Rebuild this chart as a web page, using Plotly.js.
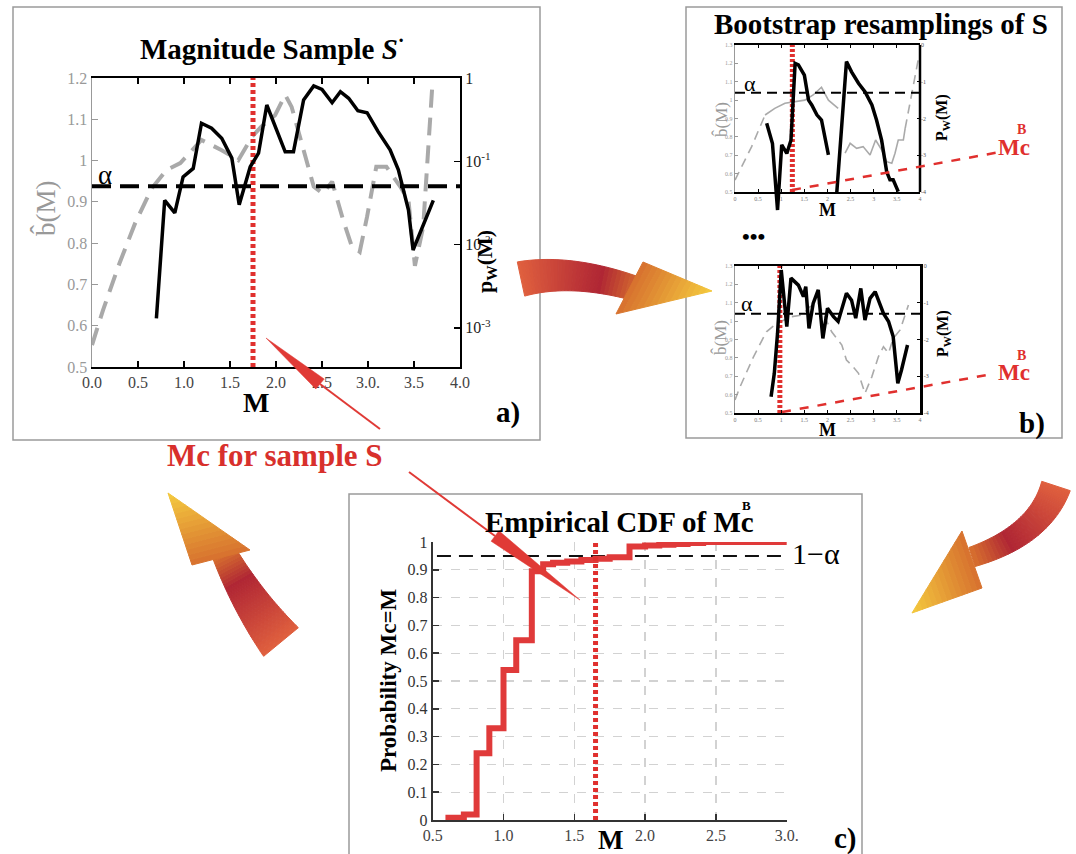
<!DOCTYPE html>
<html><head><meta charset="utf-8">
<script src="https://cdn.plot.ly/plotly-3.0.1.min.js"></script>
<style>html,body{margin:0;padding:0;background:#fff}#chart{width:1076px;height:854px}</style>
</head><body><div id="chart"></div>
<script>
// ---------- Panel a: magnitude sample S ----------
const aM_pw = [0.70,0.79,0.90,0.99,1.10,1.19,1.30,1.41,1.52,1.60,1.72,1.81,1.90,2.10,2.19,2.30,2.41,2.50,2.61,2.70,2.79,2.89,2.99,3.11,3.24,3.33,3.44,3.49,3.71];
const aPw   = [0.0013,0.034,0.024,0.065,0.082,0.286,0.249,0.189,0.109,0.030,0.086,0.125,0.474,0.130,0.130,0.544,0.802,0.731,0.505,0.685,0.571,0.405,0.383,0.227,0.137,0.079,0.026,0.0086,0.034];
const aM_b  = [0.00,0.12,0.30,0.47,0.65,0.81,0.96,1.19,1.41,1.59,1.74,1.84,1.99,2.10,2.17,2.33,2.41,2.51,2.61,2.73,2.82,2.91,2.99,3.09,3.20,3.35,3.44,3.51,3.60,3.70];
const aB    = [0.553,0.638,0.752,0.849,0.933,0.977,0.994,1.050,1.025,1.001,1.058,1.082,1.110,1.159,1.130,1.001,0.937,0.920,0.949,0.856,0.795,0.779,0.864,0.985,0.985,0.937,0.904,0.745,0.840,1.185];
const alphaA = 0.05;
const McA = 1.75;
const aXv = [0,0.5,1,1.5,2,2.5,3,3.5,4];
const aXt = ['0.0','0.5','1.0','1.5','2.0','2.5','3.0.','3.5','4.0'];
const aYv = [0.5,0.6,0.7,0.8,0.9,1.0,1.1,1.2];
const aYt = ['0.5','0.6','0.7','0.8','0.9','1','1.1','1.2'];
const aY2v = [0.001,0.01,0.1,1];
const aY2t = ['10<sup>-3</sup>','10<sup>-2</sup>','10<sup>-1</sup>','1'];

// ---------- Panel b: bootstrap resamplings ----------
const b1M_pw = [0.685,0.81,0.92,1.01,1.12,1.21,1.30,1.37,1.50,1.59,1.66,1.77,1.87,2.02,null,2.20,2.41,2.52,2.67,2.81,2.96,3.06,3.17,3.28,3.35,3.42,3.53];
const b1Lp   = [-2.13,-2.68,-4.49,-2.72,-2.95,-2.59,-0.50,-0.54,-0.82,-1.50,-1.63,-1.90,-2.04,-2.99,null,-4.03,-0.45,-0.73,-1.04,-1.27,-1.63,-2.04,-2.59,-3.45,-3.67,-3.67,-3.99];
const b1M_bd1 = [0.00,0.36,0.65];
const b1Bd1   = [0.565,0.747,0.919];
const b1M_bs  = [0.65,0.86,1.08,1.30,1.51,1.69,1.87,2.02,2.23,null,2.38,2.49,2.63,2.77,2.92,3.04,3.17,3.28,3.39,3.46,3.53,3.64,3.68];
const b1Bs    = [0.919,0.955,0.983,0.991,1.000,1.028,1.070,1.000,0.955,null,0.711,0.765,0.738,0.747,0.701,0.783,0.729,0.665,0.656,0.711,0.783,0.783,0.847];
const b1M_bd2 = [3.68,3.96];
const b1Bd2   = [0.847,1.218];
const McB1 = 1.24;

const b2M_pw = [0.78,0.85,0.92,1.00,1.12,1.21,1.37,1.48,1.53,1.60,1.69,1.80,1.90,2.00,2.13,2.23,2.41,2.52,2.61,2.72,2.81,2.92,3.03,3.21,3.32,3.42,3.52,3.60,3.73];
const b2Lp   = [-3.56,-2.92,-1.83,-0.11,-1.65,-0.33,-0.52,-0.83,-0.56,-1.70,-1.02,-0.65,-1.97,-1.15,-1.38,-1.51,-0.74,-0.93,-1.42,-0.61,-1.47,-0.88,-0.70,-1.29,-1.51,-1.92,-3.19,-2.83,-2.15];
const b2M_b  = [0.00,0.11,0.40,0.68,0.90,1.22,1.44,1.62,1.80,2.09,2.31,2.41,2.52,2.67,2.81,2.96,3.10,3.21,3.32,3.42,3.57,3.75];
const b2B    = [0.571,0.643,0.806,0.942,0.988,1.024,1.033,1.078,1.097,0.942,0.870,0.788,0.761,0.716,0.607,0.698,0.806,0.861,0.825,0.906,0.952,1.088];
const McB2 = 0.97;
const logAlpha = -1.30;
const bXv = [0,0.5,1,1.5,2,2.5,3,3.5,4];
const bXt = ['0','0.5','1','1.5','2','2.5','3','3.5','4'];
const bYv = [0.5,0.6,0.7,0.8,0.9,1.0,1.1,1.2,1.3];
const bYt = ['0.5','0.6','0.7','0.8','0.9','1','1.1','1.2','1.3'];
const bY2v = [-4,-3,-2,-1,0];
const bY2t = ['-4','-3','-2','-1','0'];

// ---------- Panel c: empirical CDF of Mc^B ----------
const cM = [0.59,0.72,0.81,0.90,1.00,1.09,1.20,1.28,1.35,1.45,1.55,1.65,1.75,1.89,2.00,2.10,2.20,2.30,2.41,3.02];
const cP = [0.008,0.02,0.24,0.33,0.54,0.647,0.895,0.92,0.925,0.93,0.935,0.94,0.945,0.984,0.987,0.99,0.993,0.996,1.0,1.0];
const oneMinusAlpha = 0.95;
const McC = 1.65;
const cXv = [0.5,1.0,1.5,2.0,2.5,3.0];
const cXt = ['0.5','1.0','1.5','2.0','2.5','3.0.'];
const cYv = [0,0.1,0.2,0.3,0.4,0.5,0.6,0.7,0.8,0.9,1.0];
const cYt = ['0','0.1','0.2','0.3','0.4','0.5','0.6','0.7','0.8','0.9','1'];

// ---------- helpers ----------
const W = 1076, H = 854;
const fx = x => x / W, fy = y => 1 - y / H;
const serif = '"Liberation Serif","Times New Roman",serif';
const RED = '#e0302e';

function line(x, y, xa, ya, color, width, dash, shape) {
  return {x, y, xaxis: xa, yaxis: ya, mode: 'lines', hoverinfo: 'skip',
          line: {color, width, dash: dash || 'solid', shape: shape || 'linear'}, connectgaps: false};
}

const traces = [
  // panel a
  line(aM_b, aB, 'x', 'y', '#a9a9a9', 4, '18px,10px'),
  line(aM_pw, aPw, 'x', 'y2', '#000', 3.5),
  line([0, 4], [alphaA, alphaA], 'x', 'y2', '#000', 4, '19px,9px'),
  line([McA, McA], [0.5, 1.2], 'x', 'y', RED, 5, '4px,3px'),
  // panel b1
  line(b1M_bd1, b1Bd1, 'x3', 'y3', '#aaa', 1.6, '9px,6px'),
  line(b1M_bs, b1Bs, 'x3', 'y3', '#aaa', 1.6),
  line(b1M_bd2, b1Bd2, 'x3', 'y3', '#aaa', 1.6, '9px,6px'),
  line([0, 4], [logAlpha, logAlpha], 'x3', 'y4', '#000', 2, '10px,6px'),
  line(b1M_pw, b1Lp, 'x3', 'y4', '#000', 3.5),
  line([McB1, McB1], [0.5, 1.3], 'x3', 'y3', RED, 5, '3px,2px'),
  // panel b2
  line(b2M_b, b2B, 'x4', 'y5', '#aaa', 1.6, '9px,6px'),
  line([0, 4], [logAlpha, logAlpha], 'x4', 'y6', '#000', 2, '10px,6px'),
  line(b2M_pw, b2Lp, 'x4', 'y6', '#000', 3.5),
  line([McB2, McB2], [0.5, 1.3], 'x4', 'y5', RED, 5, '3px,2px'),
  // panel c
  line([0.53, 3.0], [oneMinusAlpha, oneMinusAlpha], 'x5', 'y7', '#111', 2, '14px,8px'),
  line(cM, cP, 'x5', 'y7', '#e03a3a', 6, 'solid', 'hv'),
  line([McC, McC], [0, 1.0], 'x5', 'y7', RED, 5, '4px,3px')
];

function axBase(extra) {
  return Object.assign({showgrid: false, zeroline: false, ticks: 'inside', showline: true,
                        fixedrange: true, tickmode: 'array'}, extra);
}

const layout = {
  width: W, height: H, margin: {l: 0, r: 0, t: 0, b: 0},
  paper_bgcolor: '#fff', plot_bgcolor: 'rgba(0,0,0,0)', showlegend: false,
  font: {family: serif, color: '#000'},
  // panel a
  xaxis: axBase({domain: [fx(92), fx(460)], anchor: 'y', range: [0, 4], tickvals: aXv, ticktext: aXt,
                 ticklen: 6, tickwidth: 1.5, tickcolor: '#000', linecolor: '#000', linewidth: 2, mirror: 'ticks',
                 tickfont: {family: serif, size: 16, color: '#444'}}),
  yaxis: axBase({domain: [fy(367), fy(78)], anchor: 'x', range: [0.5, 1.2], tickvals: aYv, ticktext: aYt,
                 ticklen: 6, tickcolor: '#999', linecolor: '#999', linewidth: 1.5,
                 tickfont: {family: serif, size: 16, color: '#999'}}),
  yaxis2: axBase({overlaying: 'y', side: 'right', anchor: 'x', type: 'log', range: [-3.47, 0],
                  tickvals: aY2v, ticktext: aY2t, ticklen: 6, tickwidth: 1.5, tickcolor: '#000', linecolor: '#000', linewidth: 2,
                  tickfont: {family: serif, size: 16, color: '#222'}}),
  // panel b1
  xaxis3: axBase({domain: [fx(735), fx(920)], anchor: 'y3', range: [0, 4], tickvals: bXv, ticktext: bXt,
                  ticklen: 3, tickcolor: '#000', linecolor: '#000', linewidth: 2, mirror: 'ticks',
                  tickfont: {family: serif, size: 6, color: '#777'}}),
  yaxis3: axBase({domain: [fy(192), fy(45)], anchor: 'x3', range: [0.5, 1.3], tickvals: bYv, ticktext: bYt,
                  ticklen: 3, tickcolor: '#999', linecolor: '#999', linewidth: 1.2,
                  tickfont: {family: serif, size: 6, color: '#999'}}),
  yaxis4: axBase({domain: [fy(214), fy(45)], anchor: 'x3', side: 'right', range: [-4 - 22 / 36.75, 0],
                  tickvals: bY2v, ticktext: bY2t, ticklen: 3, tickcolor: '#000', showline: false,
                  tickfont: {family: serif, size: 6, color: '#555'}}),
  // panel b2
  xaxis4: axBase({domain: [fx(735), fx(920)], anchor: 'y5', range: [0, 4], tickvals: bXv, ticktext: bXt,
                  ticklen: 3, tickcolor: '#000', linecolor: '#000', linewidth: 2, mirror: 'ticks',
                  tickfont: {family: serif, size: 6, color: '#777'}}),
  yaxis5: axBase({domain: [fy(413), fy(266)], anchor: 'x4', range: [0.5, 1.3], tickvals: bYv, ticktext: bYt,
                  ticklen: 3, tickcolor: '#999', linecolor: '#999', linewidth: 1.2,
                  tickfont: {family: serif, size: 6, color: '#999'}}),
  yaxis6: axBase({overlaying: 'y5', anchor: 'x4', side: 'right', range: [-4, 0],
                  tickvals: bY2v, ticktext: bY2t, ticklen: 3, tickcolor: '#000', linecolor: '#000', linewidth: 2.5,
                  tickfont: {family: serif, size: 6, color: '#555'}}),
  // panel c
  xaxis5: axBase({domain: [fx(432.7), fx(786.7)], anchor: 'y7', range: [0.5, 3.0], tickvals: cXv, ticktext: cXt,
                  ticklen: 6, tickwidth: 1.5, tickcolor: '#333', linecolor: '#333', linewidth: 2,
                  showgrid: true, gridcolor: '#d2d2d2', gridwidth: 1.2, griddash: 'dash',
                  tickfont: {family: serif, size: 16, color: '#444'}}),
  yaxis7: axBase({domain: [fy(820), fy(542)], anchor: 'x5', range: [0, 1.0], tickvals: cYv, ticktext: cYt,
                  ticklen: 6, tickwidth: 1.5, tickcolor: '#333', linecolor: '#333', linewidth: 2,
                  showgrid: true, gridcolor: '#d2d2d2', gridwidth: 1.2, griddash: 'dash',
                  tickfont: {family: serif, size: 16, color: '#333'}})
};

// ---------- decorations: panel frames, pointers, arrows ----------
function poly(pts) { return 'M' + pts.map(p => fx(p[0]).toFixed(5) + ',' + fy(p[1]).toFixed(5)).join('L') + 'Z'; }
const shapes = [];
function frame(x0, y0, x1, y1) {
  shapes.push({type: 'rect', xref: 'paper', yref: 'paper', x0: fx(x0), x1: fx(x1), y0: fy(y1), y1: fy(y0),
               line: {color: '#9a9a9a', width: 1.5}, fillcolor: 'rgba(0,0,0,0)', layer: 'below'});
}
frame(13, 7, 540, 440);
frame(686, 7, 1062, 438);
frame(349, 494, 862, 860);

// right spine of panel b1
shapes.push({type: 'line', xref: 'x3 domain', yref: 'y3 domain', x0: 1, x1: 1, y0: 0, y1: 1, line: {color: '#000', width: 2.5}});

function segLine(p0, p1, color, width, dash) {
  shapes.push({type: 'line', xref: 'paper', yref: 'paper', x0: fx(p0[0]), y0: fy(p0[1]), x1: fx(p1[0]), y1: fy(p1[1]),
               line: {color, width, dash: dash || 'solid'}});
}
function wedge(base, tip, hw, color) {
  const dx = tip[0] - base[0], dy = tip[1] - base[1], l = Math.hypot(dx, dy);
  const nx = -dy / l, ny = dx / l;
  shapes.push({type: 'path', xref: 'paper', yref: 'paper', fillcolor: color, line: {color, width: 0.5},
               path: poly([[base[0] + nx * hw, base[1] + ny * hw], tip, [base[0] - nx * hw, base[1] - ny * hw]])});
}
// red Mc pointers
segLine([320, 384], [380, 429], '#e03a36', 2);
wedge([320, 384], [266, 338], 6.5, '#e03a36');
segLine([409, 472], [495, 536], '#e03a36', 2);
wedge([495, 536], [580, 600], 6.5, '#e03a36');
// red dashed Mc^B pointers in panel b
segLine([792, 190], [1000, 152], RED, 2.5, 'dash');
segLine([782, 412], [987, 375], RED, 2.5, 'dash');

// gradient arrows
const stops = [[0, [224, 96, 62]], [0.52, [176, 38, 52]], [0.74, [215, 112, 46]], [1, [244, 202, 62]]];
function col(t) {
  for (let i = 1; i < stops.length; i++) {
    if (t <= stops[i][0]) {
      const a = stops[i - 1], b = stops[i], u = (t - a[0]) / (b[0] - a[0]);
      const c = a[1].map((v, k) => Math.round(v + (b[1][k] - v) * u));
      return `rgb(${c[0]},${c[1]},${c[2]})`;
    }
  }
  return 'rgb(244,202,62)';
}
function arrow(P0, P1, P2, w0, w1, bA, bB, tip) {
  const n = 32, m = 14;
  const B = t => [(1 - t) * (1 - t) * P0[0] + 2 * (1 - t) * t * P1[0] + t * t * P2[0],
                  (1 - t) * (1 - t) * P0[1] + 2 * (1 - t) * t * P1[1] + t * t * P2[1]];
  const D = t => [2 * (1 - t) * (P1[0] - P0[0]) + 2 * t * (P2[0] - P1[0]),
                  2 * (1 - t) * (P1[1] - P0[1]) + 2 * t * (P2[1] - P1[1])];
  const edge = t => {
    const b = B(t), d = D(t), l = Math.hypot(d[0], d[1]);
    const nx = -d[1] / l, ny = d[0] / l, w = (w0 + (w1 - w0) * t) / 2;
    return [[b[0] + nx * w, b[1] + ny * w], [b[0] - nx * w, b[1] - ny * w]];
  };
  for (let i = 0; i < n; i++) {
    const t0 = i / n, t1 = (i + 1) / n, e0 = edge(t0), e1 = edge(t1), c = col(0.74 * (t0 + t1) / 2);
    shapes.push({type: 'path', xref: 'paper', yref: 'paper', fillcolor: c, line: {color: c, width: 1},
                 path: poly([e0[0], e1[0], e1[1], e0[1]])});
  }
  const L = u => [bA[0] + (tip[0] - bA[0]) * u, bA[1] + (tip[1] - bA[1]) * u];
  const R = u => [bB[0] + (tip[0] - bB[0]) * u, bB[1] + (tip[1] - bB[1]) * u];
  for (let k = 0; k < m; k++) {
    const u0 = k / m, u1 = (k + 1) / m, c = col(0.74 + 0.26 * (u0 + u1) / 2);
    shapes.push({type: 'path', xref: 'paper', yref: 'paper', fillcolor: c, line: {color: c, width: 1},
                 path: poly([L(u0), L(u1), R(u1), R(u0)])});
  }
}
arrow([521, 279], [572, 268], [640, 290], 35, 24, [643, 262], [616, 314], [712, 291]);
arrow([1056, 486], [1040, 535], [972, 557], 30, 20, [962, 531], [982, 588], [912, 613]);
arrow([281, 642], [248, 602], [224, 553], 45, 25, [192, 565], [250, 550], [168, 493]);
layout.shapes = shapes;

// ---------- texts ----------
const ann = [];
function txt(x, y, text, size, opts) {
  ann.push(Object.assign({xref: 'paper', yref: 'paper', x: fx(x), y: fy(y), text, showarrow: false,
                          xanchor: 'center', yanchor: 'middle', font: {family: serif, size, color: '#000'}}, opts || {}));
}
// panel a
txt(272, 47, '<b>Magnitude Sample <i>S</i><sup>·</sup></b>', 29);
txt(105, 175, 'α', 27);
txt(45, 208, 'b\u0302(M)', 27, {textangle: -90, font: {family: serif, size: 27, color: '#999'}});
txt(486, 262, '<b>p<sub>W</sub>(M)</b>', 22, {textangle: -90});
txt(256, 402, '<b>M</b>', 28);
txt(508, 412, '<b>a)</b>', 29);
txt(275, 455, '<b>Mc for sample S</b>', 31, {font: {family: serif, size: 31, color: '#d8302c'}});
// panel b
txt(881, 24, '<b>Bootstrap resamplings of S</b>', 29);
txt(750, 83, 'α', 22);
txt(721, 120, 'b\u0302(M)', 17, {textangle: -90, font: {family: serif, size: 17, color: '#999'}});
txt(943, 118, '<b>P<sub>W</sub>(M)</b>', 16, {textangle: -90});
txt(827, 210, '<b>M</b>', 18);
txt(1014, 148, '<b>Mc</b>', 23, {font: {family: serif, size: 23, color: RED}});
txt(1021, 130, '<b>B</b>', 14, {font: {family: serif, size: 14, color: RED}});
txt(753, 237, '<b>•••</b>', 22);
txt(747, 303, 'α', 22);
txt(720, 338, 'b\u0302(M)', 17, {textangle: -90, font: {family: serif, size: 17, color: '#999'}});
txt(943, 334, '<b>P<sub>W</sub>(M)</b>', 16, {textangle: -90});
txt(827, 430, '<b>M</b>', 18);
txt(1014, 373, '<b>Mc</b>', 23, {font: {family: serif, size: 23, color: RED}});
txt(1021, 355, '<b>B</b>', 14, {font: {family: serif, size: 14, color: RED}});
txt(1032, 423, '<b>b)</b>', 29);
// panel c
txt(619, 522, '<b>Empirical CDF of Mc</b>', 29);
txt(746, 505, '<b>B</b>', 13);
txt(388, 680, '<b>Probability Mc=M</b>', 23, {textangle: -90});
txt(610, 840, '<b>M</b>', 27);
txt(790, 553, '1−α', 30, {xanchor: 'left'});
txt(845, 838, '<b>c)</b>', 29);
layout.annotations = ann;

Plotly.newPlot('chart', traces, layout, {staticPlot: true, displayModeBar: false});
</script>
</body></html>
